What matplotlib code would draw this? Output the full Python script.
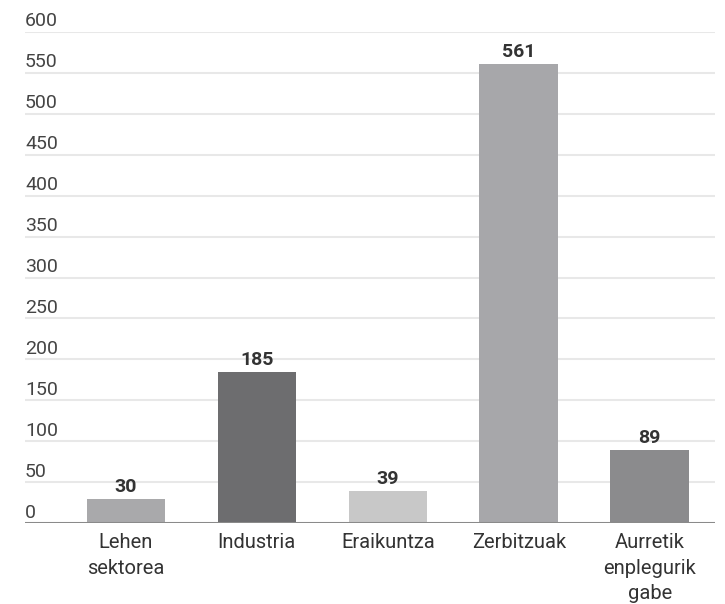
import matplotlib.pyplot as plt
import matplotlib.transforms as mtransforms

plt.rcParams['font.family'] = ['Roboto', 'DejaVu Sans']

# data
categories = ['Lehen\nsektorea', 'Industria', 'Eraikuntza', 'Zerbitzuak', 'Aurretik\nenplegurik\ngabe']
values = [30, 185, 39, 561, 89]
colors = ['#a9a9ab', '#6d6d6f', '#c8c8c8', '#a7a7aa', '#8b8b8d']
yticks = [0, 50, 100, 150, 200, 250, 300, 350, 400, 450, 500, 550, 600]

fig = plt.figure(figsize=(7.25, 6.04), dpi=100)
ax = fig.add_axes([0.0345, 0.134, 0.952, 0.813])

x = list(range(len(categories)))
bars = ax.bar(x, values, width=0.6, color=colors, zorder=3)

ax.set_xlim(-0.77, 4.5)
ax.set_ylim(0, 600)

# gridlines
for t in yticks[1:]:
    ax.axhline(t, color='#e8e8e8', lw=1.5, zorder=1)
ax.axhline(0, color='#8a8a8a', lw=2.2, zorder=4)

# y labels sit above gridlines at the left edge
offset = mtransforms.ScaledTranslation(0, 4 / 72, fig.dpi_scale_trans)
for t in yticks:
    ax.text(0, t, str(t), transform=ax.get_yaxis_transform() + offset,
            ha='left', va='baseline', fontsize=14, color='#444444')

# value labels
for b, v in zip(bars, values):
    ax.annotate(str(v), (b.get_x() + b.get_width() / 2, v),
                xytext=(0, 5), textcoords='offset points',
                ha='center', va='baseline', fontsize=14, fontweight='bold',
                color='#333333')

ax.set_xticks(x)
ax.set_xticklabels(categories, fontsize=14.5, color='#333333', linespacing=1.45)
ax.tick_params(axis='x', length=0, pad=7)
ax.set_yticks([])
for s in ax.spines.values():
    s.set_visible(False)

plt.savefig('out.png')
